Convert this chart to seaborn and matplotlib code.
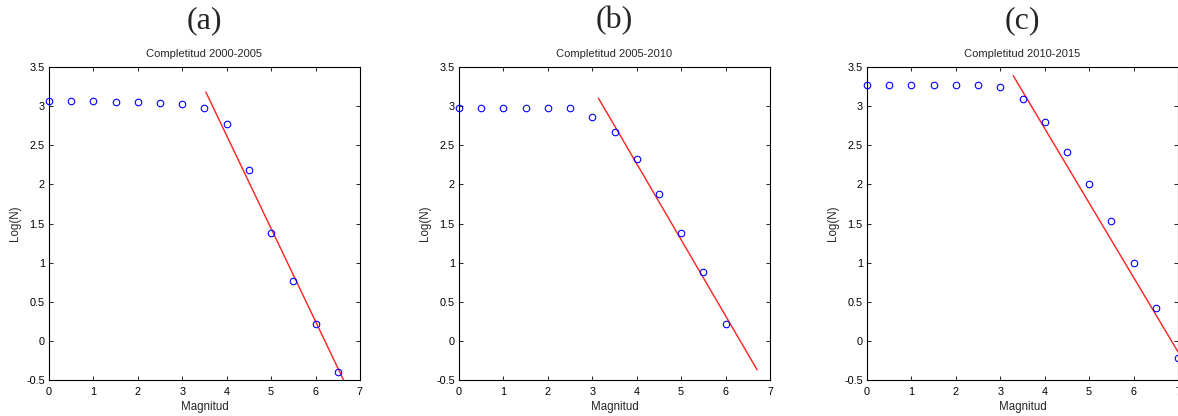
import numpy as np
import pandas as pd
import matplotlib
matplotlib.use("Agg")
import matplotlib.pyplot as plt
import seaborn as sns
from matplotlib.ticker import FormatStrFormatter

sns.set_style("white")
plt.rcParams['font.family'] = ['Liberation Sans', 'DejaVu Sans']

# ---- data ----
panel_labels = ["(a)", "(b)", "(c)"]
titles = ["Completitud 2000-2005", "Completitud 2005-2010", "Completitud 2010-2015"]

mag_a = [0, 0.5, 1, 1.5, 2, 2.5, 3, 3.5, 4, 4.5, 5, 5.5, 6, 6.5]
logn_a = [3.06, 3.06, 3.06, 3.05, 3.05, 3.04, 3.03, 2.98, 2.77, 2.19, 1.38, 0.77, 0.21, -0.40]

mag_b = [0, 0.5, 1, 1.5, 2, 2.5, 3, 3.5, 4, 4.5, 5, 5.5, 6]
logn_b = [2.98, 2.98, 2.98, 2.98, 2.98, 2.97, 2.86, 2.67, 2.32, 1.88, 1.38, 0.88, 0.21]

mag_c = [0, 0.5, 1, 1.5, 2, 2.5, 3, 3.5, 4, 4.5, 5, 5.5, 6, 6.5, 7]
logn_c = [3.27, 3.27, 3.27, 3.27, 3.27, 3.27, 3.24, 3.09, 2.80, 2.42, 2.01, 1.53, 1.00, 0.42, -0.22]

# Gutenberg-Richter fit lines: start/end magnitude and log(N) at those ends
fit_x_a = [3.53, 6.63]
fit_y_a = [3.18, -0.50]
fit_x_b = [3.14, 6.71]
fit_y_b = [3.10, -0.37]
fit_x_c = [3.29, 7.00]
fit_y_c = [3.39, -0.14]

xticks = [0, 1, 2, 3, 4, 5, 6, 7]
yticks = [-0.5, 0, 0.5, 1, 1.5, 2, 2.5, 3, 3.5]

W, H = 1178, 416
fig = plt.figure(figsize=(W / 100, H / 100), dpi=100)

lefts = [49, 459, 867]
ax_w, ax_top, ax_bot = 311, 67, 380

data = [
    (mag_a, logn_a, fit_x_a, fit_y_a),
    (mag_b, logn_b, fit_x_b, fit_y_b),
    (mag_c, logn_c, fit_x_c, fit_y_c),
]

for i, (mx, ly, fx, fy) in enumerate(data):
    ax = fig.add_axes([lefts[i] / W, (H - ax_bot) / H, ax_w / W, (ax_bot - ax_top) / H])
    df = pd.DataFrame({"Magnitud": mx, "LogN": ly})
    dfl = pd.DataFrame({"Magnitud": fx, "LogN": fy})
    sns.lineplot(data=dfl, x="Magnitud", y="LogN", ax=ax, color="#ff2020", lw=1.0)
    ax.plot(df["Magnitud"], df["LogN"], linestyle="none", marker="o", markersize=4.7,
            markerfacecolor="none", markeredgecolor="#0000ff", markeredgewidth=0.8,
            clip_on=False, zorder=3)
    ax.set_xlim(0, 7)
    ax.set_ylim(-0.5, 3.5)
    ax.set_xticks(xticks)
    ax.set_yticks(yticks)
    ax.yaxis.set_major_formatter(FormatStrFormatter('%g'))
    ax.tick_params(direction="in", length=3, width=0.6, labelsize=7.8, pad=3,
                   top=True, right=True, bottom=True, left=True, colors="black")
    ax.tick_params(axis="x", pad=5)
    for s in ax.spines.values():
        s.set_color("black")
        s.set_linewidth(0.8)
    ax.set_xlabel("Magnitud", fontsize=8.3, labelpad=3)
    ax.set_ylabel("Log(N)", fontsize=8.3, labelpad=4)
    ax.set_title(titles[i], fontsize=8, pad=7)
    cx = (lefts[i] + ax_w / 2) / W
    fig.text(cx, 1 - 21 / H, panel_labels[i], ha="center", va="center",
             fontsize=23, family=["Liberation Serif", "DejaVu Serif"])

fig.savefig("out.png", dpi=100)
